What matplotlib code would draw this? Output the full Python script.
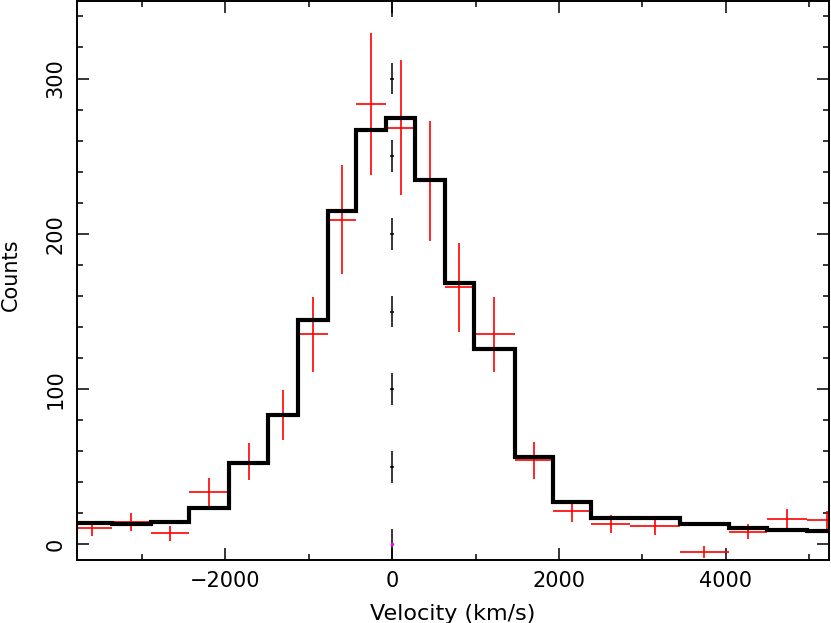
import numpy as np
import matplotlib.pyplot as plt
from matplotlib.ticker import MultipleLocator

# velocity bin edges (km/s)
edges = np.array([-3840, -3360, -2892, -2430, -1952, -1484, -1132, -772, -432, -72,
                  276, 628, 976, 1468, 1924, 2388, 2856, 3448, 4036, 4496, 4968, 5448])
# observed counts and errors
counts = np.array([10.3, 14.5, 7.1, 33.8, 53.4, 83.4, 135.3, 209.2, 283.6, 268.4,
                   234.0, 165.5, 135.2, 54.2, 21.6, 13.2, 11.7, -5.0, 8.1, 16.7, 15.6])
count_err = np.array([5.0, 5.9, 4.7, 9.0, 12.0, 16.3, 24.0, 35.0, 46.0, 43.7,
                      38.6, 28.4, 24.0, 11.8, 7.0, 5.7, 5.5, 3.8, 4.8, 6.4, 6.2])
# model
model = np.array([13.9, 12.9, 14.3, 23.5, 52.7, 83.2, 144.4, 215.0, 266.9, 274.6,
                  234.7, 168.2, 126.0, 56.3, 27.2, 17.1, 17.1, 13.5, 10.3, 9.2, 8.6])
# zero-velocity marker levels
ref_levels = np.arange(0, 351, 50)

centers = 0.5 * (edges[:-1] + edges[1:])
half_w = 0.5 * np.diff(edges)

fig = plt.figure(figsize=(8.31, 6.23), dpi=100)
ax = fig.add_axes([0.0923, 0.1011, 0.9057, 0.8975])

# dashed zero line with small marks
ax.errorbar(np.zeros(len(ref_levels)), ref_levels, yerr=10.2, fmt='none',
            ecolor='black', elinewidth=1.1, zorder=1)
ax.plot(np.zeros(len(ref_levels) - 1), ref_levels[1:], '_', color='black',
        markersize=3.5, markeredgewidth=1.1, zorder=1)
ax.plot([0], [ref_levels[0]], 'o', color='magenta', markersize=1.5, zorder=1)

ax.errorbar(centers, counts, xerr=half_w, yerr=count_err, fmt='none',
            ecolor='red', elinewidth=1.2, zorder=2)
ax.stairs(model, edges, color='black', linewidth=3.0, baseline=None, zorder=3)

ax.set_xlim(-3780, 5240)
ax.set_ylim(-10, 350)
ax.xaxis.set_major_locator(MultipleLocator(2000))
ax.xaxis.set_minor_locator(MultipleLocator(1000))
ax.yaxis.set_major_locator(MultipleLocator(100))
ax.yaxis.set_minor_locator(MultipleLocator(20))

ax.tick_params(which='both', direction='in', top=True, right=True, width=1.1,
               labelsize=15)
ax.tick_params(which='major', length=8.5)
ax.tick_params(which='minor', length=4.3)
ax.tick_params(axis='x', pad=8)
ax.tick_params(axis='y', pad=8)
for lab in ax.get_yticklabels():
    lab.set_rotation(90)
    lab.set_va('center')
for s in ax.spines.values():
    s.set_linewidth(1.4)

ax.set_xlabel('Velocity (km/s)', fontsize=16, labelpad=9)
ax.set_ylabel('Counts', fontsize=15)
ax.yaxis.set_label_coords(-0.074, 0.51)

fig.savefig('out.png', dpi=100)
